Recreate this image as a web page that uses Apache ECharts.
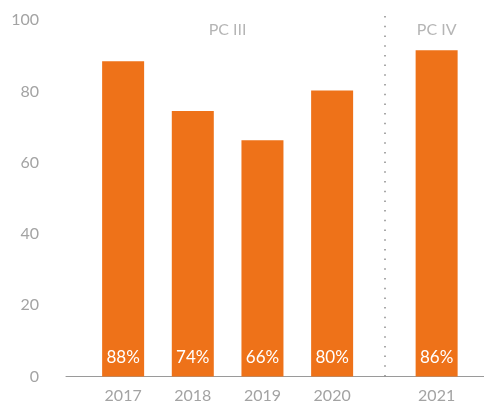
<!DOCTYPE html>
<html>
<head>
<meta charset="utf-8">
<script src="https://cdn.jsdelivr.net/npm/echarts@6/dist/echarts.min.js"></script>
<style>
    html, body { margin: 0; padding: 0; background: #fff; }
    #main { width: 484px; height: 406px; }
</style>
</head>
<body>
<div id="main"></div>
<script>
    // categories and their slot positions (2021 sits half a slot further right)
    var years = ['2017', '2018', '2019', '2020', '2021'];
    var slots = [0, 1, 2, 3, 4.5];
    var values = [88.5, 74.5, 66.3, 80.3, 91.6];
    var shares = ['88%', '74%', '66%', '80%', '86%'];
    var groups = ['PC III', 'PC IV'];
    var groupSlots = [1.5, 4.5];
    var yTicks = [0, 20, 40, 60, 80, 100];
    var dividerSlot = 3.75;

    var grey = '#a3a3a3';
    var orange = '#ee7219';
    var font = 'Lato';

    var myChart = echarts.init(document.getElementById('main'));

    var barData = slots.map(function (s, i) {
        return { value: [s, values[i]], share: shares[i] };
    });
    var groupData = groupSlots.map(function (s, i) {
        return { value: [s, 97.4], name: groups[i] };
    });

    var option = {
        animation: false,
        grid: { left: 66, right: 0, top: 16, bottom: 29.5 },
        xAxis: {
            type: 'value',
            min: -0.82,
            max: 5.18,
            splitLine: { show: false },
            axisLine: { show: true, lineStyle: { color: '#9a9a9a', width: 1 } },
            axisTick: { show: false },
            axisLabel: {
                customValues: slots,
                margin: 11,
                color: grey,
                fontSize: 16,
                fontFamily: font,
                formatter: function (v) {
                    var i = slots.indexOf(v);
                    return i >= 0 ? years[i] : '';
                }
            }
        },
        yAxis: {
            type: 'value',
            min: 0,
            max: 101.2,
            splitLine: { show: false },
            axisLine: { show: false },
            axisTick: { show: false },
            axisLabel: {
                customValues: yTicks,
                margin: 27,
                color: grey,
                fontSize: 16,
                fontFamily: font
            }
        },
        series: [
            {
                type: 'bar',
                barWidth: 42,
                data: barData,
                itemStyle: { color: orange },
                label: {
                    show: true,
                    position: 'insideBottom',
                    distance: 10,
                    color: '#fff',
                    fontSize: 17,
                    fontFamily: font,
                    formatter: function (p) { return p.data.share; }
                },
                markLine: {
                    silent: true,
                    symbol: 'none',
                    label: { show: false },
                    lineStyle: { color: '#8c8c8c', width: 1.5, type: [1.5, 8.2] },
                    data: [{ xAxis: dividerSlot }]
                }
            },
            {
                type: 'scatter',
                symbolSize: 0,
                data: groupData,
                label: {
                    show: true,
                    position: 'inside',
                    color: grey,
                    fontSize: 16,
                    fontFamily: font,
                    formatter: function (p) { return p.data.name; }
                }
            }
        ]
    };

    myChart.setOption(option);
</script>
</body>
</html>
